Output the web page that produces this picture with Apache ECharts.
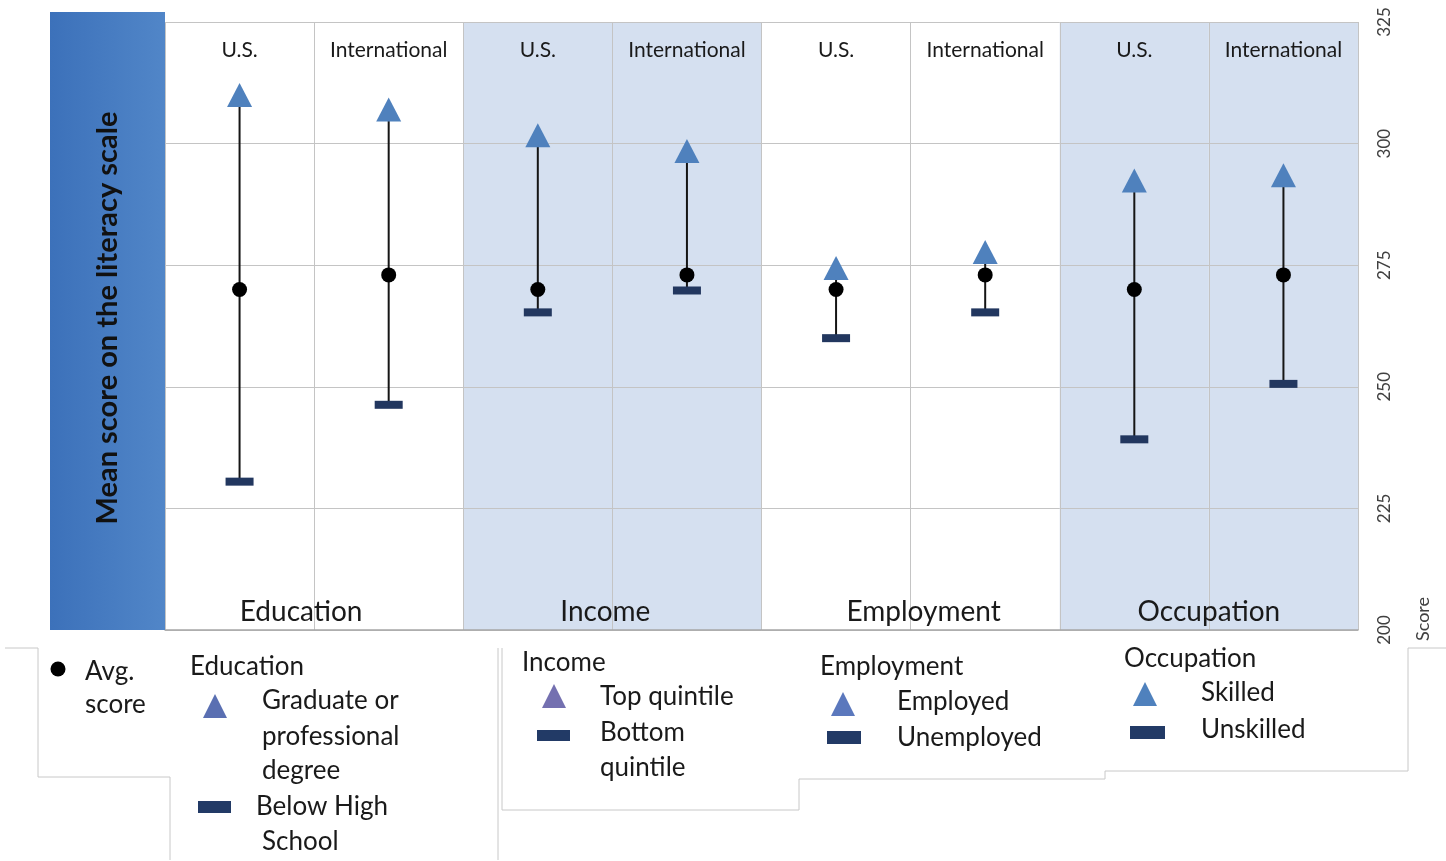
<!DOCTYPE html>
<html>
<head>
<meta charset="utf-8">
<script src="https://cdn.jsdelivr.net/npm/echarts@6/dist/echarts.min.js"></script>
<style>
  html, body { margin: 0; padding: 0; background: #fff; }
  #chart { width: 1446px; height: 861px; }
</style>
</head>
<body>
<div id="chart"></div>
<script>
// columns: U.S. / International for each group
const categories = ["U.S.", "International", "U.S.", "International", "U.S.", "International", "U.S.", "International"];
const groups = ["Education", "Income", "Employment", "Occupation"];
const shaded = [false, false, true, true, false, false, true, true];

// mean literacy scores
const topScore = [310, 307, 301.7, 298.5, 274.4, 277.7, 292.4, 293.5];
const avgScore = [270, 273, 270, 273, 270, 273, 270, 273];
const bottomScore = [230.5, 246.3, 265.3, 269.8, 260, 265.3, 239.2, 250.6];

const yMin = 200, yMax = 325, yStep = 25;

const FONT = "Lato";
const chart = echarts.init(document.getElementById("chart"));

function legendText(text, x, y) {
  return {
    type: "text",
    style: { text: text, x: x, y: y, fill: "#1a1a1a", font: "26px " + FONT, textVerticalAlign: "middle" },
  };
}
function legendTri(cx, cy, color) {
  return {
    type: "polygon",
    shape: { points: [[cx, cy - 12], [cx + 12, cy + 12], [cx - 12, cy + 12]] },
    style: { fill: color },
  };
}
function legendDash(x, y, w, h) {
  return { type: "rect", shape: { x: x, y: y, width: w, height: h }, style: { fill: "#223a66" } };
}
function outline(points) {
  return { type: "polyline", shape: { points: points }, style: { stroke: "#c8c8c8", lineWidth: 1, fill: null } };
}

// group labels sit a little off-centre in the original
const groupRich = {
  g0: { fontSize: 28, fontFamily: FONT, color: "#1a1a1a", padding: [0, 26, 0, 0] },
  g1: { fontSize: 28, fontFamily: FONT, color: "#1a1a1a", padding: [0, 14, 0, 0] },
  g2: { fontSize: 28, fontFamily: FONT, color: "#1a1a1a", padding: [0, 0, 0, 26] },
  g3: { fontSize: 28, fontFamily: FONT, color: "#1a1a1a", padding: [0, 0, 0, 0] },
};

const option = {
  animation: false,
  grid: { left: 165, right: 88, top: 22, bottom: 231 },
  xAxis: [
    {
      type: "category",
      data: categories,
      position: "top",
      boundaryGap: true,
      axisLine: { show: false },
      axisTick: { show: false },
      axisLabel: { inside: true, margin: 18, fontSize: 21, color: "#1a1a1a", fontFamily: FONT, interval: 0 },
      splitLine: { show: true, interval: 0, lineStyle: { color: "#c4c4c4", width: 1 } },
    },
    {
      type: "category",
      data: groups,
      position: "bottom",
      axisLine: { show: true, lineStyle: { color: "#a6a6a6", width: 1.5 } },
      axisTick: { show: false },
      axisLabel: {
        inside: true,
        margin: 4,
        interval: 0,
        formatter: (v, i) => "{g" + i + "|" + v + "}",
        rich: groupRich,
      },
      splitLine: { show: false },
    },
  ],
  yAxis: {
    type: "value",
    position: "right",
    min: yMin,
    max: yMax,
    interval: yStep,
    axisLine: { show: false },
    axisTick: { show: false },
    axisLabel: { rotate: 90, margin: 18, fontSize: 17, color: "#404040", fontFamily: FONT },
    splitLine: { lineStyle: { color: "#c4c4c4", width: 1 } },
  },
  series: [
    {
      type: "bar",
      z: -1,
      silent: true,
      barWidth: "100%",
      data: shaded.map((s) => (s ? yMax : null)),
      itemStyle: { color: "#d5e0f0" },
    },
    {
      type: "custom",
      z: 3,
      data: categories.map((c, i) => [i, bottomScore[i], topScore[i]]),
      encode: { x: 0, y: [1, 2] },
      renderItem: function (params, api) {
        const p1 = api.coord([api.value(0), api.value(1)]);
        const p2 = api.coord([api.value(0), api.value(2)]);
        return {
          type: "line",
          shape: { x1: p1[0], y1: p1[1], x2: p2[0], y2: p2[1] },
          style: { stroke: "#151515", lineWidth: 2 },
        };
      },
    },
    {
      type: "scatter",
      z: 4,
      symbol: "rect",
      symbolSize: [28, 8],
      data: bottomScore,
      itemStyle: { color: "#22375f", opacity: 1 },
    },
    {
      type: "scatter",
      z: 5,
      symbol: "circle",
      symbolSize: 15,
      data: avgScore,
      itemStyle: { color: "#000", opacity: 1 },
    },
    {
      type: "scatter",
      z: 5,
      symbol: "triangle",
      symbolSize: [25, 24],
      data: topScore,
      itemStyle: { color: "#4f81bd", opacity: 1 },
    },
  ],
  graphic: [
    {
      type: "rect",
      z: 10,
      shape: { x: 50, y: 12, width: 115, height: 618 },
      style: {
        fill: new echarts.graphic.LinearGradient(0, 0, 1, 0, [
          { offset: 0, color: "#3c71ba" },
          { offset: 1, color: "#5186c8" },
        ]),
      },
    },
    {
      type: "text",
      z: 11,
      x: 108,
      y: 318,
      rotation: Math.PI / 2,
      style: {
        text: "Mean score on the literacy scale",
        font: "bold 29px " + FONT,
        fill: "#111",
        textAlign: "center",
        textVerticalAlign: "middle",
      },
    },
    {
      type: "text",
      x: 1423,
      y: 619,
      rotation: Math.PI / 2,
      style: { text: "Score", font: "18px " + FONT, fill: "#404040", textAlign: "center", textVerticalAlign: "middle" },
    },
    outline([[5, 648], [38, 648], [38, 777], [170, 777], [170, 860]]),
    outline([[498, 648], [498, 860]]),
    outline([[502, 648], [502, 810], [799, 810], [799, 779], [1105, 779], [1105, 771], [1408, 771], [1408, 648], [1446, 648]]),
    { type: "circle", shape: { cx: 58, cy: 669, r: 7.5 }, style: { fill: "#000" } },
    legendText("Avg.", 85, 672),
    legendText("score", 85, 705),
    legendText("Education", 190, 667),
    legendTri(215, 706, "#5a6fb2"),
    legendText("Graduate or", 262, 701),
    legendText("professional", 262, 737),
    legendText("degree", 262, 771),
    legendDash(198, 801, 33, 12),
    legendText("Below High", 256, 807),
    legendText("School", 262, 842),
    legendText("Income", 522, 663),
    legendTri(554, 696, "#7470b0"),
    legendText("Top quintile", 600, 697),
    legendDash(537, 730, 33, 11),
    legendText("Bottom", 600, 733),
    legendText("quintile", 600, 768),
    legendText("Employment", 820, 667),
    legendTri(843, 704, "#5b78bd"),
    legendText("Employed", 897, 702),
    legendDash(827, 731, 34, 13),
    legendText("Unemployed", 897, 738),
    legendText("Occupation", 1124, 659),
    legendTri(1145, 694, "#4f81bd"),
    legendText("Skilled", 1201, 693),
    legendDash(1130, 726, 35, 13),
    legendText("Unskilled", 1201, 730),
  ],
};

chart.setOption(option);
window.addEventListener("resize", () => chart.resize());
</script>
</body>
</html>
